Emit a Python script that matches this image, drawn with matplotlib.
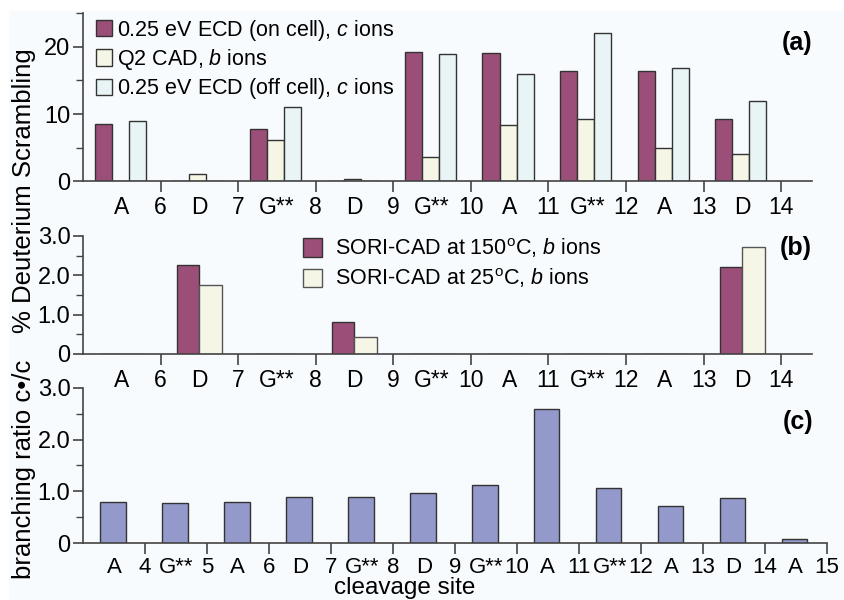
import numpy as np
import matplotlib.pyplot as plt
from matplotlib.ticker import MultipleLocator, FixedLocator
from matplotlib.patches import Rectangle

plt.rcParams['font.family'] = ['Liberation Sans', 'DejaVu Sans']
plt.rcParams['mathtext.fontset'] = 'custom'
plt.rcParams['mathtext.rm'] = 'Liberation Sans'
plt.rcParams['mathtext.it'] = 'Liberation Sans:italic'

# ---- data ----
res_ab = ["A", "D", "G**", "D", "G**", "A", "G**", "A", "D"]
num_ab = ["6", "7", "8", "9", "10", "11", "12", "13", "14"]
ecd_on = [8.5, 0, 7.7, 0, 19.3, 19.1, 16.4, 16.4, 9.2]
q2_cad = [0, 1.0, 6.2, 0.4, 3.6, 8.3, 9.2, 5.0, 4.1]
ecd_off = [9.0, 0, 11.0, 0, 18.9, 16.0, 22.0, 16.9, 11.9]

sori_150 = [0, 2.26, 0, 0.82, 0, 0, 0, 0, 2.2]
sori_25 = [0, 1.74, 0, 0.44, 0, 0, 0, 0, 2.72]

res_c = ["A", "G**", "A", "D", "G**", "D", "G**", "A", "G**", "A", "D", "A"]
num_c = ["4", "5", "6", "7", "8", "9", "10", "11", "12", "13", "14", "15"]
branching = [0.80, 0.78, 0.80, 0.90, 0.90, 0.97, 1.12, 2.58, 1.07, 0.71, 0.88, 0.08]

c_on = '#9b4f78'
c_q2 = '#f5f6e6'
c_off = '#e8f4f5'
c_c = '#9499cc'
bg = '#f8fbfd'
ec = '#333333'

fig = plt.figure(figsize=(8.44, 6.0), dpi=100, facecolor=bg)
# white margin strips seen in the scan
fig.patches.append(Rectangle((0, 0.983), 1, 0.017, transform=fig.transFigure,
                             color='white', zorder=-1))
fig.patches.append(Rectangle((0, 0), 0.009, 1, transform=fig.transFigure,
                             color='white', zorder=-1))

ax_a = fig.add_axes([0.0983, 0.698, 0.864, 0.28])
ax_b = fig.add_axes([0.0983, 0.41, 0.864, 0.197])
ax_c = fig.add_axes([0.0983, 0.0945, 0.881, 0.2595])

def style(ax, ncat, nums, res, xmax, fs=16.5, pad=3):
    ax.set_facecolor(bg)
    for s in ['top', 'right']:
        ax.spines[s].set_visible(False)
    for s in ['left', 'bottom']:
        ax.spines[s].set_color('#444444')
        ax.spines[s].set_linewidth(1.2)
    ax.set_xlim(0, xmax)
    ax.xaxis.set_major_locator(FixedLocator(np.arange(1, ncat + 1)))
    ax.set_xticklabels(nums)
    ax.xaxis.set_minor_locator(FixedLocator(np.arange(ncat) + 0.5))
    ax.set_xticklabels(res, minor=True)
    ax.tick_params(axis='x', which='major', length=8, width=1.2, color='#444444',
                   labelsize=fs, pad=pad, direction='out')
    ax.tick_params(axis='x', which='minor', length=0, labelsize=fs, pad=pad + 8)
    ax.tick_params(axis='y', which='major', length=7, width=1.2, color='#444444',
                   labelsize=17, pad=2)
    ax.tick_params(axis='y', which='minor', length=5, width=1, color='#444444')

# ---- (a) ----
x = np.arange(len(res_ab))
w = 0.22
ax_a.bar(x + 0.26, ecd_on, w, color=c_on, edgecolor=ec, lw=1,
         label="0.25 eV ECD (on cell), $\\it{c}$ ions")
ax_a.bar(x + 0.48, q2_cad, w, color=c_q2, edgecolor=ec, lw=1,
         label="Q2 CAD, $\\it{b}$ ions")
ax_a.bar(x + 0.70, ecd_off, w, color=c_off, edgecolor=ec, lw=1,
         label="0.25 eV ECD (off cell), $\\it{c}$ ions")
ax_a.set_ylim(0, 25)
ax_a.yaxis.set_major_locator(FixedLocator([0, 10, 20]))
ax_a.yaxis.set_minor_locator(MultipleLocator(5))
style(ax_a, len(res_ab), num_ab, res_ab, 9.4)
ax_a.legend(loc='upper left', bbox_to_anchor=(0.0, 1.05), frameon=False, fontsize=15.5,
            handlelength=0.75, handleheight=0.8, handletextpad=0.25, labelspacing=0.2,
            borderaxespad=0.2)
ax_a.text(1.0, 0.82, "(a)", transform=ax_a.transAxes, ha='right', va='center',
          fontsize=18, fontweight='bold')

# ---- (b) ----
wb = 0.29
ax_b.bar(x + 0.355, sori_150, wb, color=c_on, edgecolor=ec, lw=1,
         label="SORI-CAD at 150$^{\\rm o}$C, $\\it{b}$ ions")
ax_b.bar(x + 0.645, sori_25, wb, color=c_q2, edgecolor='#555555', lw=1,
         label="SORI-CAD at 25$^{\\rm o}$C, $\\it{b}$ ions")
ax_b.set_ylim(0, 3.0)
ax_b.yaxis.set_major_locator(FixedLocator([0, 1, 2, 3]))
ax_b.set_yticklabels(["0", "1.0", "2.0", "3.0"])
ax_b.yaxis.set_minor_locator(MultipleLocator(0.5))
style(ax_b, len(res_ab), num_ab, res_ab, 9.4)
ax_b.legend(loc='upper left', bbox_to_anchor=(0.275, 1.16), frameon=False, fontsize=15.5,
            handlelength=0.9, handleheight=0.95, handletextpad=0.6, labelspacing=0.3)
ax_b.text(1.0, 0.90, "(b)", transform=ax_b.transAxes, ha='right', va='center',
          fontsize=18, fontweight='bold')

# ---- (c) ----
xc = np.arange(len(res_c))
ax_c.bar(xc + 0.485, branching, 0.41, color=c_c, edgecolor=ec, lw=1)
ax_c.set_ylim(0, 3.0)
ax_c.yaxis.set_major_locator(FixedLocator([0, 1, 2, 3]))
ax_c.set_yticklabels(["0", "1.0", "2.0", "3.0"])
ax_c.yaxis.set_minor_locator(MultipleLocator(0.5))
style(ax_c, len(res_c), num_c, res_c, 12.0, fs=16, pad=2)
ax_c.text(0.982, 0.78, "(c)", transform=ax_c.transAxes, ha='right', va='center',
          fontsize=18, fontweight='bold')

fig.text(0.028, 0.683, "% Deuterium Scrambling", rotation=90, ha='center', va='center',
         fontsize=18.5)
fig.text(0.028, 0.218, "branching ratio c\u2022/c", rotation=90, ha='center', va='center',
         fontsize=18.5)
fig.text(0.48, 0.002, "cleavage site", ha='center', va='bottom', fontsize=17.5)

fig.savefig("out.png", dpi=100, facecolor=bg)
